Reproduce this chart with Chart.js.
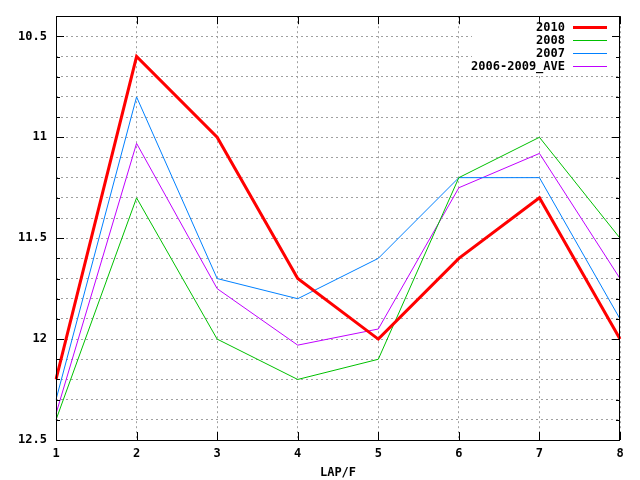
<!DOCTYPE html>
<html>
<head>
<meta charset="utf-8">
<script src="https://cdn.jsdelivr.net/npm/chart.js@4/dist/chart.umd.min.js"></script>
<style>
  html, body { margin: 0; padding: 0; background: #fff; }
  canvas { display: block; }
</style>
</head>
<body>
<canvas id="lapChart" width="640" height="480"></canvas>
<script>
"use strict";

// lap number on the x axis
const laps = ['1', '2', '3', '4', '5', '6', '7', '8'];

// times per lap
const y2010 = [12.2, 10.6, 11.0, 11.7, 12.0, 11.6, 11.3, 12.0];
const y2008 = [12.4, 11.3, 12.0, 12.2, 12.1, 11.2, 11.0, 11.5];
const y2007 = [12.3, 10.8, 11.7, 11.8, 11.6, 11.2, 11.2, 11.9];
const yAve = [12.37, 11.03, 11.75, 12.03, 11.95, 11.25, 11.08, 11.7];

const yTickLabels = ['10.5', '11', '11.5', '12', '12.5'];

const monoFont = "'DejaVu Sans Mono', 'Liberation Mono', monospace";

const isMajor = (v) => Math.abs(v * 2 - Math.round(v * 2)) < 1e-6;

// gnuplot-like frame: border, inward ticks and the key box
const framePlugin = {
  id: 'frame',
  afterDatasetsDraw(chart) {
    const ctx = chart.ctx;
    const a = chart.chartArea;
    const x = chart.scales.x;
    const y = chart.scales.y;
    ctx.save();

    // key background
    ctx.fillStyle = '#fff';
    ctx.fillRect(a.right - 148, a.top + 1, 147, 56);

    ctx.strokeStyle = '#000';
    ctx.lineWidth = 1;
    ctx.setLineDash([]);
    ctx.beginPath();
    y.ticks.forEach((t) => {
      const py = Math.round(y.getPixelForValue(t.value)) + 0.5;
      const len = isMajor(t.value) ? 8 : 4;
      ctx.moveTo(a.left, py);
      ctx.lineTo(a.left + len, py);
      ctx.moveTo(a.right, py);
      ctx.lineTo(a.right - len, py);
    });
    laps.forEach((l, i) => {
      const px = Math.round(x.getPixelForValue(i)) + 0.5;
      ctx.moveTo(px, a.bottom);
      ctx.lineTo(px, a.bottom - 8);
      ctx.moveTo(px, a.top);
      ctx.lineTo(px, a.top + 8);
    });
    ctx.stroke();
    ctx.strokeRect(Math.round(a.left) + 0.5, Math.round(a.top) + 0.5,
      Math.round(a.right - a.left) - 1, Math.round(a.bottom - a.top));

    // key entries
    ctx.font = 'bold 12px ' + monoFont;
    ctx.textAlign = 'right';
    ctx.textBaseline = 'middle';
    chart.data.datasets.forEach((ds, i) => {
      const ry = a.top + 11 + i * 13;
      ctx.fillStyle = '#000';
      ctx.fillText(ds.label, a.right - 55, ry + 1);
      ctx.strokeStyle = ds.borderColor;
      ctx.lineWidth = ds.borderWidth;
      ctx.beginPath();
      ctx.moveTo(a.right - 47, Math.round(ry) + 0.5);
      ctx.lineTo(a.right - 13, Math.round(ry) + 0.5);
      ctx.stroke();
    });
    ctx.restore();
  }
};

const ctx = document.getElementById('lapChart').getContext('2d');
const lapChart = new Chart(ctx, {
  type: 'line',
  data: {
    labels: laps,
    datasets: [
      { label: '2010', data: y2010, borderColor: '#ff0000', borderWidth: 3 },
      { label: '2008', data: y2008, borderColor: '#00c000', borderWidth: 1 },
      { label: '2007', data: y2007, borderColor: '#0080ff', borderWidth: 1 },
      { label: '2006-2009_AVE', data: yAve, borderColor: '#c000ff', borderWidth: 1 }
    ]
  },
  options: {
    responsive: false,
    animation: false,
    devicePixelRatio: 1,
    layout: { padding: { top: 13, right: 20, left: 0, bottom: 0 } },
    elements: {
      line: { tension: 0, fill: false },
      point: { radius: 0, hoverRadius: 0 }
    },
    plugins: {
      legend: { display: false },
      tooltip: { enabled: false }
    },
    scales: {
      x: {
        type: 'category',
        offset: false,
        grid: { color: '#a0a0a0', drawTicks: false, lineWidth: 1 },
        border: { display: false, dash: [2, 3] },
        ticks: {
          color: '#000',
          padding: 7,
          maxRotation: 0,
          font: { family: monoFont, size: 12, weight: 'bold' }
        },
        title: {
          display: true,
          text: 'LAP/F',
          color: '#000',
          padding: { top: 1, bottom: 0 },
          font: { family: monoFont, size: 12, weight: 'bold' }
        },
        afterFit: (scale) => { scale.height = 40; }
      },
      y: {
        reverse: true,
        min: 10.4,
        max: 12.5,
        grid: { color: '#a0a0a0', drawTicks: false, lineWidth: 1 },
        border: { display: false, dash: [2, 3] },
        ticks: {
          stepSize: 0.1,
          autoSkip: false,
          color: '#000',
          padding: 9,
          font: { family: monoFont, size: 12, weight: 'bold' },
          callback: (v) => yTickLabels.find((l) => Math.abs(parseFloat(l) - v) < 1e-6) || ''
        },
        afterFit: (scale) => { scale.width = 56; }
      }
    }
  },
  plugins: [framePlugin]
});
</script>
</body>
</html>
